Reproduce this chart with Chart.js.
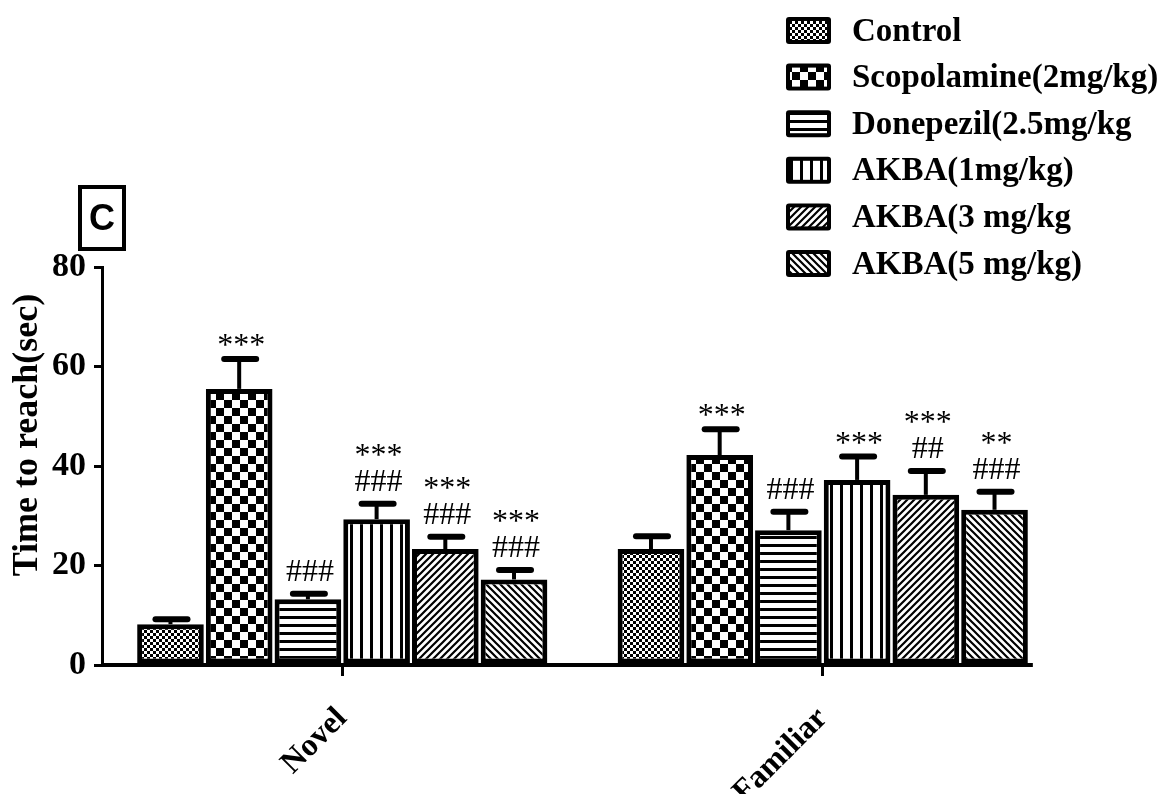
<!DOCTYPE html>
<html>
<head>
<meta charset="utf-8">
<script src="https://cdn.jsdelivr.net/npm/chart.js@4.4.0/dist/chart.umd.min.js"></script>
<style>
  html, body { margin: 0; padding: 0; background: #fff; }
  canvas { display: block; }
</style>
</head>
<body>
<canvas id="chart" width="1161" height="794"></canvas>
<script>
// categories and groups
const categories = ['Novel', 'Familiar'];
const groupLabels = ['Control', 'Scopolamine(2mg/kg)', 'Donepezil(2.5mg/kg', 'AKBA(1mg/kg)', 'AKBA(3 mg/kg', 'AKBA(5 mg/kg)'];

// mean time to reach (sec)
const control     = [8.2, 23.3];
const scopolamine = [55.5, 42.2];
const donepezil   = [13.2, 27.1];
const akba1       = [29.3, 37.2];
const akba3       = [23.3, 34.2];
const akba5       = [17.2, 31.2];

// upper error bar (SEM)
const controlErr     = [1.0, 2.6];
const scopolamineErr = [6.0, 5.2];
const donepezilErr   = [1.1, 3.7];
const akba1Err       = [3.1, 4.7];
const akba3Err       = [2.5, 4.8];
const akba5Err       = [1.9, 3.6];

// significance marks above each bar
const controlMarks     = ['', ''];
const scopolamineMarks = ['***', '***'];
const donepezilMarks   = ['###', '###'];
const akba1Marks       = ['***\n###', '***'];
const akba3Marks       = ['***\n###', '***\n##'];
const akba5Marks       = ['***\n###', '**\n###'];

const yTicks = [0, 20, 40, 60, 80];

const SERIF = "'Liberation Serif', 'Times New Roman', serif";

// hatch / checker fills
function makePattern(kind) {
  const c = document.createElement('canvas');
  const g = c.getContext('2d');
  let s;
  if (kind === 'checkSmall') {
    s = 6; c.width = c.height = s;
    g.fillStyle = '#fff'; g.fillRect(0, 0, s, s);
    g.fillStyle = '#000'; g.fillRect(0, 0, 3, 3); g.fillRect(3, 3, 3, 3);
  } else if (kind === 'checkBig') {
    s = 16; c.width = c.height = s;
    g.fillStyle = '#fff'; g.fillRect(0, 0, s, s);
    g.fillStyle = '#000'; g.fillRect(0, 0, 8, 8); g.fillRect(8, 8, 8, 8);
  } else if (kind === 'horiz') {
    c.width = 8; c.height = 8;
    g.fillStyle = '#fff'; g.fillRect(0, 0, 8, 8);
    g.fillStyle = '#000'; g.fillRect(0, 0, 8, 3);
  } else if (kind === 'vert') {
    c.width = 10; c.height = 10;
    g.fillStyle = '#fff'; g.fillRect(0, 0, 10, 10);
    g.fillStyle = '#000'; g.fillRect(0, 0, 3, 10);
  } else {
    s = 7; c.width = c.height = s;
    g.fillStyle = '#fff'; g.fillRect(0, 0, s, s);
    g.strokeStyle = '#000'; g.lineWidth = 2.2;
    g.beginPath();
    if (kind === 'diagUp') {
      g.moveTo(-1, 1); g.lineTo(1, -1);
      g.moveTo(0, s); g.lineTo(s, 0);
      g.moveTo(s - 1, s + 1); g.lineTo(s + 1, s - 1);
    } else {
      g.moveTo(-1, s - 1); g.lineTo(1, s + 1);
      g.moveTo(0, 0); g.lineTo(s, s);
      g.moveTo(s - 1, -1); g.lineTo(s + 1, 1);
    }
    g.stroke();
  }
  return g.createPattern(c, 'repeat');
}

const series = [control, scopolamine, donepezil, akba1, akba3, akba5];
const errors = [controlErr, scopolamineErr, donepezilErr, akba1Err, akba3Err, akba5Err];
const marks = [controlMarks, scopolamineMarks, donepezilMarks, akba1Marks, akba3Marks, akba5Marks];
const fills = ['checkSmall', 'checkBig', 'horiz', 'vert', 'diagUp', 'diagDown'].map(makePattern);

const datasets = series.map((data, i) => ({
  label: groupLabels[i],
  data: data,
  backgroundColor: fills[i],
  borderColor: '#000',
  borderWidth: 5,
  borderSkipped: false,
  categoryPercentage: 0.858,
  barPercentage: 0.97
}));

// error bars, marks, legend, panel letter, axis line
const decorations = {
  id: 'decorations',
  afterDatasetsDraw(chart) {
    const ctx = chart.ctx;
    const y = chart.scales.y;
    const area = chart.chartArea;
    ctx.save();

    // x axis line, ending just past the last bar
    const lastMeta = chart.getDatasetMeta(series.length - 1);
    const lastBar = lastMeta.data[lastMeta.data.length - 1];
    const y0 = y.getPixelForValue(0);
    ctx.strokeStyle = '#000';
    ctx.lineWidth = 4;
    ctx.beginPath();
    ctx.moveTo(area.left - 1, y0);
    ctx.lineTo(lastBar.x + lastBar.width / 2 + 5, y0);
    ctx.stroke();

    series.forEach((data, i) => {
      const meta = chart.getDatasetMeta(i);
      meta.data.forEach((bar, j) => {
        const top = y.getPixelForValue(data[j]);
        const capY = y.getPixelForValue(data[j] + errors[i][j]);
        ctx.strokeStyle = '#000';
        ctx.lineWidth = 4;
        ctx.lineCap = 'butt';
        ctx.beginPath();
        ctx.moveTo(bar.x, top);
        ctx.lineTo(bar.x, capY);
        ctx.stroke();
        ctx.lineWidth = 6;
        ctx.lineCap = 'round';
        ctx.beginPath();
        ctx.moveTo(bar.x - 15, capY);
        ctx.lineTo(bar.x + 17, capY);
        ctx.stroke();

        const lines = marks[i][j] ? marks[i][j].split('\n') : [];
        ctx.fillStyle = '#000';
        ctx.font = '32px ' + SERIF;
        ctx.textAlign = 'center';
        ctx.textBaseline = 'alphabetic';
        let base = capY - 3 - (lines.length && lines[lines.length - 1].includes('#') ? 10 : 1);
        for (let k = lines.length - 1; k >= 0; k--) {
          ctx.fillText(lines[k], bar.x + 2, base);
          base -= 26;
        }
      });
    });

    // legend
    ctx.lineCap = 'butt';
    ctx.font = 'bold 33px ' + SERIF;
    ctx.textAlign = 'left';
    ctx.textBaseline = 'middle';
    chart.data.datasets.forEach((ds, i) => {
      const cy = 30 + i * 46.6;
      ctx.fillStyle = '#000';
      ctx.beginPath();
      ctx.roundRect(786, cy - 13, 45, 27, 3);
      ctx.fill();
      ctx.fillStyle = ds.backgroundColor;
      ctx.fillRect(790, cy - 9, 37, 19);
      ctx.fillStyle = '#000';
      ctx.fillText(ds.label, 852, cy + 2);
    });

    // panel letter
    ctx.lineWidth = 4;
    ctx.strokeRect(80, 187, 44, 62);
    ctx.font = 'bold 36px "Liberation Sans", Arial, sans-serif';
    ctx.textAlign = 'center';
    ctx.fillText('C', 102, 220);

    // y axis title
    ctx.translate(28, 435);
    ctx.rotate(-Math.PI / 2);
    ctx.font = 'bold 36px ' + SERIF;
    ctx.fillText('Time to reach(sec)', 0, 0);
    ctx.restore();
  }
};

new Chart(document.getElementById('chart'), {
  type: 'bar',
  data: { labels: categories, datasets: datasets },
  options: {
    responsive: false,
    animation: false,
    devicePixelRatio: 1,
    layout: { padding: { top: 267, right: 98, left: 0, bottom: 0 } },
    plugins: { legend: { display: false }, tooltip: { enabled: false } },
    scales: {
      x: {
        afterFit(scale) { scale.height = 129; },
        border: { display: false },
        grid: { drawOnChartArea: false, offset: false, tickLength: 11, lineWidth: 3, color: '#000' },
        ticks: {
          color: '#000', minRotation: 45, maxRotation: 45, padding: 24,
          font: { family: SERIF, size: 32, weight: 'bold' }
        }
      },
      y: {
        min: 0, max: 80,
        afterFit(scale) { scale.width = 102; },
        afterBuildTicks(scale) { scale.ticks = yTicks.map(v => ({ value: v })); },
        border: { display: true, width: 3, color: '#000' },
        grid: { drawOnChartArea: false, tickLength: 8, lineWidth: 3, color: '#000' },
        ticks: {
          color: '#000', padding: 8,
          font: { family: SERIF, size: 34, weight: 'bold' }
        }
      }
    }
  },
  plugins: [decorations]
});
</script>
</body>
</html>
